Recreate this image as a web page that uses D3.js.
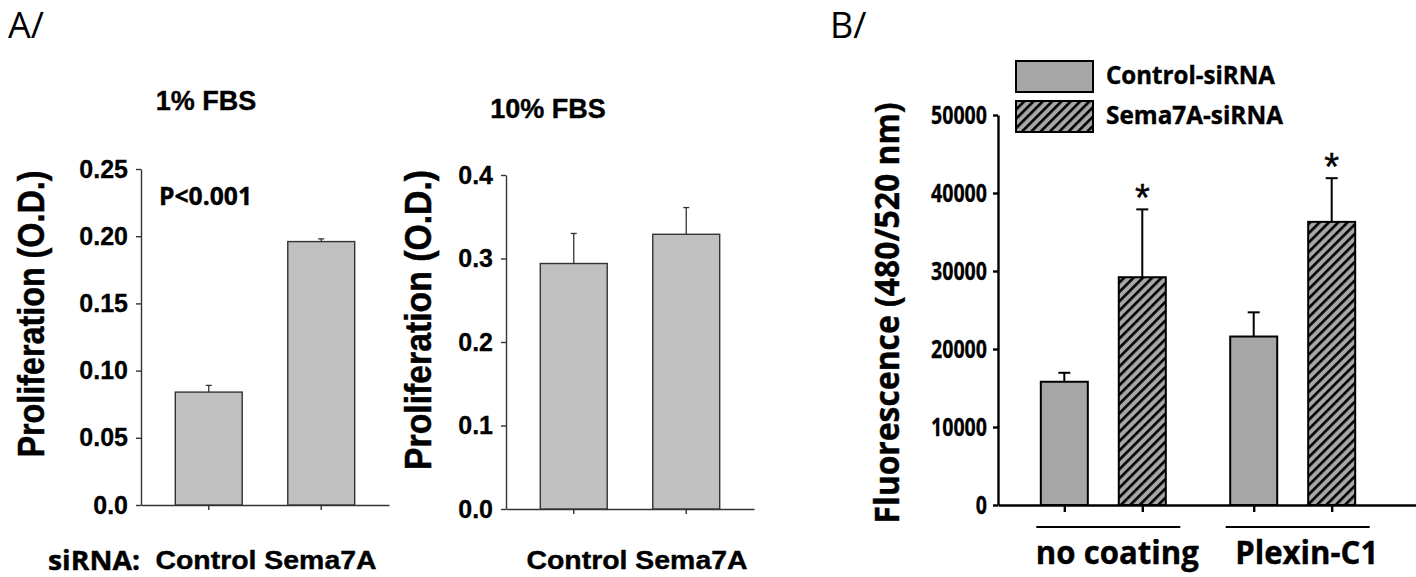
<!DOCTYPE html>
<html>
<head>
<meta charset="utf-8">
<script src="https://cdn.jsdelivr.net/npm/d3@7"></script>
<style>
  body { margin: 0; background: #fff; }
  svg { display: block; }
</style>
</head>
<body>
<svg id="fig" width="1416" height="577"></svg>
<script>
// --- data ---
const siRNACategories = ["Control", "Sema7A"];

const fbs1Values = [0.084, 0.196];
const fbs1Errors = [0.005, 0.002];
const fbs1Ticks = [0, 0.05, 0.10, 0.15, 0.20, 0.25];
const fbs1TickLabels = ["0.0", "0.05", "0.10", "0.15", "0.20", "0.25"];

const fbs10Values = [0.294, 0.329];
const fbs10Errors = [0.036, 0.032];
const fbs10Ticks = [0, 0.1, 0.2, 0.3, 0.4];
const fbs10TickLabels = ["0.0", "0.1", "0.2", "0.3", "0.4"];

const coatings = ["no coating", "Plexin-C1"];
const groups = ["Control-siRNA", "Sema7A-siRNA"];
const controlFluor = [15800, 21600];
const controlFluorErr = [1150, 3100];
const semaFluor = [29200, 36300];
const semaFluorErr = [8700, 5600];
const fluorTicks = [0, 10000, 20000, 30000, 40000, 50000];

const svg = d3.select("#fig");
const arial = "'Liberation Sans', Arial, sans-serif";
const calibri = "'Open Sans', 'Noto Sans', sans-serif";

// hatch for Sema7A-siRNA bars
const defs = svg.append("defs");
const hatch = defs.append("pattern")
    .attr("id", "hatch")
    .attr("patternUnits", "userSpaceOnUse")
    .attr("width", 6.6).attr("height", 6.6)
    .attr("patternTransform", "rotate(45)");
hatch.append("rect").attr("width", 6.6).attr("height", 6.6).attr("fill", "#a6a6a6");
hatch.append("line")
    .attr("x1", 1.3).attr("x2", 1.3).attr("y1", 0).attr("y2", 6.6)
    .attr("stroke", "#000").attr("stroke-width", 2.6);

// small helper for bold text squeezed to the width seen in the figure
function label(parent, txt, x, y, font, size, width, anchor) {
    const t = parent.append("text").attr("x", x).attr("y", y)
        .attr("text-anchor", anchor || "start")
        .style("font-family", font).style("font-weight", "bold").style("font-size", size + "px")
        .attr("stroke", "#000").attr("stroke-width", 0.4)
        .text(txt);
    if (width) t.attr("textLength", width).attr("lengthAdjust", "spacingAndGlyphs");
    return t;
}

// panel letters
svg.append("text").attr("x", 8).attr("y", 38)
    .style("font-family", calibri).style("font-size", "36px").text("A/");
svg.append("text").attr("x", 830).attr("y", 38)
    .style("font-family", calibri).style("font-size", "36px").text("B/");

// --- panel A: two small bar charts ---
function panelA(o) {
    const g = svg.append("g");
    const x = d3.scaleBand().domain(siRNACategories)
        .range([o.left, o.right]).paddingInner(0.405).paddingOuter(0.305);
    const y = d3.scaleLinear().domain([0, o.max]).range([o.bottom, o.top]);

    const yAxis = g.append("g")
        .attr("transform", `translate(${o.left},0)`)
        .call(d3.axisLeft(y).tickValues(o.ticks)
            .tickFormat((d, i) => o.labels[i])
            .tickSize(5).tickSizeOuter(0).tickPadding(8));
    yAxis.selectAll("text")
        .style("font-family", arial).style("font-weight", "bold")
        .style("font-size", "25px").attr("fill", "#000")
        .attr("stroke", "#000").attr("stroke-width", 0.3);

    g.append("g")
        .attr("transform", `translate(0,${o.bottom})`)
        .call(d3.axisBottom(x).tickSize(5).tickSizeOuter(0).tickFormat(""));

    g.selectAll(".domain, .tick line")
        .attr("stroke", "#333").attr("stroke-width", 1.4);

    g.selectAll(".bar").data(o.values).enter().append("rect")
        .attr("x", (d, i) => x(siRNACategories[i]))
        .attr("width", x.bandwidth())
        .attr("y", d => y(d))
        .attr("height", d => y(0) - y(d))
        .attr("fill", "#c0c0c0").attr("stroke", "#333").attr("stroke-width", 1.4);

    const err = g.selectAll(".err").data(o.values).enter().append("g")
        .attr("transform", (d, i) => `translate(${x(siRNACategories[i]) + x.bandwidth() / 2},0)`);
    err.append("line")
        .attr("y1", d => y(d)).attr("y2", (d, i) => y(d + o.errors[i]))
        .attr("stroke", "#333").attr("stroke-width", 1.3);
    err.append("line")
        .attr("x1", -3).attr("x2", 3)
        .attr("y1", (d, i) => y(d + o.errors[i])).attr("y2", (d, i) => y(d + o.errors[i]))
        .attr("stroke", "#333").attr("stroke-width", 1.3);

    g.append("text")
        .attr("transform", `translate(${o.labelX},${o.labelY}) rotate(-90)`)
        .attr("text-anchor", "middle")
        .attr("textLength", o.labelLen).attr("lengthAdjust", "spacingAndGlyphs")
        .style("font-family", arial).style("font-weight", "bold").style("font-size", "37px")
        .attr("stroke", "#000").attr("stroke-width", 0.5)
        .text("Proliferation (O.D.)");

    label(g, o.title, o.titleX, o.titleY, arial, 27, null, "middle");

    const mid = (x(siRNACategories[0]) + x(siRNACategories[1]) + x.bandwidth()) / 2;
    label(g, siRNACategories.join(" "), mid + o.catShift, 569, arial, 26, 221, "middle");
    return g;
}

panelA({
    left: 141, right: 389, top: 169, bottom: 505, max: 0.25,
    ticks: fbs1Ticks, labels: fbs1TickLabels,
    values: fbs1Values, errors: fbs1Errors,
    title: "1% FBS", titleX: 206, titleY: 110,
    labelX: 44, labelY: 314, labelLen: 287, catShift: 1
});
panelA({
    left: 506, right: 754, top: 175, bottom: 509, max: 0.4,
    ticks: fbs10Ticks, labels: fbs10TickLabels,
    values: fbs10Values, errors: fbs10Errors,
    title: "10% FBS", titleX: 548, titleY: 118,
    labelX: 431, labelY: 320, labelLen: 300, catShift: 7
});

label(svg, "P<0.001", 159, 205, calibri, 25, 93);
label(svg, "siRNA:", 48, 570, calibri, 26, 92);

// --- panel B: grouped bars ---
const gB = svg.append("g");
const x0 = d3.scaleBand().domain(coatings).range([998, 1398]).paddingInner(0.34).paddingOuter(0.226);
const x1 = d3.scaleBand().domain(groups).range([0, x0.bandwidth()]).paddingInner(0.397);
const yB = d3.scaleLinear().domain([0, 50000]).range([505, 115]);

const yAxisB = gB.append("g").attr("transform", "translate(998,0)")
    .call(d3.axisLeft(yB).tickValues(fluorTicks).tickFormat(d3.format("d"))
        .tickSize(5).tickSizeOuter(0).tickPadding(6));
yAxisB.selectAll("text")
    .style("font-family", calibri).style("font-weight", "bold")
    .style("font-size", "25px").attr("fill", "#000")
    .attr("stroke", "#000").attr("stroke-width", 0.3)
    .attr("textLength", d => String(d).length * 11.2)
    .attr("lengthAdjust", "spacingAndGlyphs");

const xTicks = [];
coatings.forEach(c => groups.forEach(s => xTicks.push(x0(c) + x1(s) + x1.bandwidth() / 2)));
gB.append("g").attr("transform", "translate(0,505)")
    .call(d3.axisBottom(d3.scaleLinear().domain([998, 1416]).range([998, 1416]))
        .tickValues(xTicks).tickSize(7).tickSizeOuter(0).tickFormat(""));
gB.selectAll(".domain, .tick line").attr("stroke", "#000").attr("stroke-width", 2.4);

const bData = [];
coatings.forEach((c, i) => {
    bData.push({ coat: c, grp: groups[0], v: controlFluor[i], e: controlFluorErr[i] });
    bData.push({ coat: c, grp: groups[1], v: semaFluor[i], e: semaFluorErr[i] });
});

gB.selectAll(".barB").data(bData).enter().append("rect")
    .attr("x", d => x0(d.coat) + x1(d.grp))
    .attr("width", x1.bandwidth())
    .attr("y", d => yB(d.v))
    .attr("height", d => yB(0) - yB(d.v))
    .attr("fill", d => d.grp === groups[0] ? "#a6a6a6" : "url(#hatch)")
    .attr("stroke", "#000").attr("stroke-width", 2);

const errB = gB.selectAll(".errB").data(bData).enter().append("g")
    .attr("transform", d => `translate(${x0(d.coat) + x1(d.grp) + x1.bandwidth() / 2},0)`);
errB.append("line").attr("y1", d => yB(d.v)).attr("y2", d => yB(d.v + d.e))
    .attr("stroke", "#000").attr("stroke-width", 2);
errB.append("line").attr("x1", -6).attr("x2", 6)
    .attr("y1", d => yB(d.v + d.e)).attr("y2", d => yB(d.v + d.e))
    .attr("stroke", "#000").attr("stroke-width", 2);

// significance stars over the Sema7A bars
gB.selectAll(".star").data(bData.filter(d => d.grp === groups[1])).enter().append("text")
    .attr("x", d => x0(d.coat) + x1(d.grp) + x1.bandwidth() / 2)
    .attr("y", d => yB(d.v + d.e) + 2)
    .attr("text-anchor", "middle")
    .style("font-family", arial).style("font-size", "38px")
    .attr("stroke", "#000").attr("stroke-width", 0.5)
    .text("*");

// group underlines and labels
const coatWidths = [163, 143];
coatings.forEach((c, i) => {
    const cx = x0(c) + x0.bandwidth() / 2 + 5;
    gB.append("line").attr("x1", cx - 72).attr("x2", cx + 72)
        .attr("y1", 527).attr("y2", 527).attr("stroke", "#000").attr("stroke-width", 2);
    label(gB, c, cx + 9, 564, calibri, 32, coatWidths[i], "middle");
});

gB.append("text")
    .attr("transform", `translate(899,313) rotate(-90)`)
    .attr("text-anchor", "middle")
    .attr("textLength", 421).attr("lengthAdjust", "spacingAndGlyphs")
    .style("font-family", calibri).style("font-weight", "bold").style("font-size", "34px")
    .attr("stroke", "#000").attr("stroke-width", 0.4)
    .text("Fluorescence (480/520 nm)");

// legend
const legend = gB.append("g").attr("transform", "translate(1016,61)");
const legendWidths = [169, 177];
groups.forEach((s, i) => {
    legend.append("rect").attr("x", 0).attr("y", i * 40).attr("width", 77).attr("height", 31)
        .attr("fill", i === 0 ? "#a6a6a6" : "url(#hatch)")
        .attr("stroke", "#000").attr("stroke-width", 2);
    label(legend, s, 90, i * 40 + 23, calibri, 25, legendWidths[i]);
});
</script>
</body>
</html>
